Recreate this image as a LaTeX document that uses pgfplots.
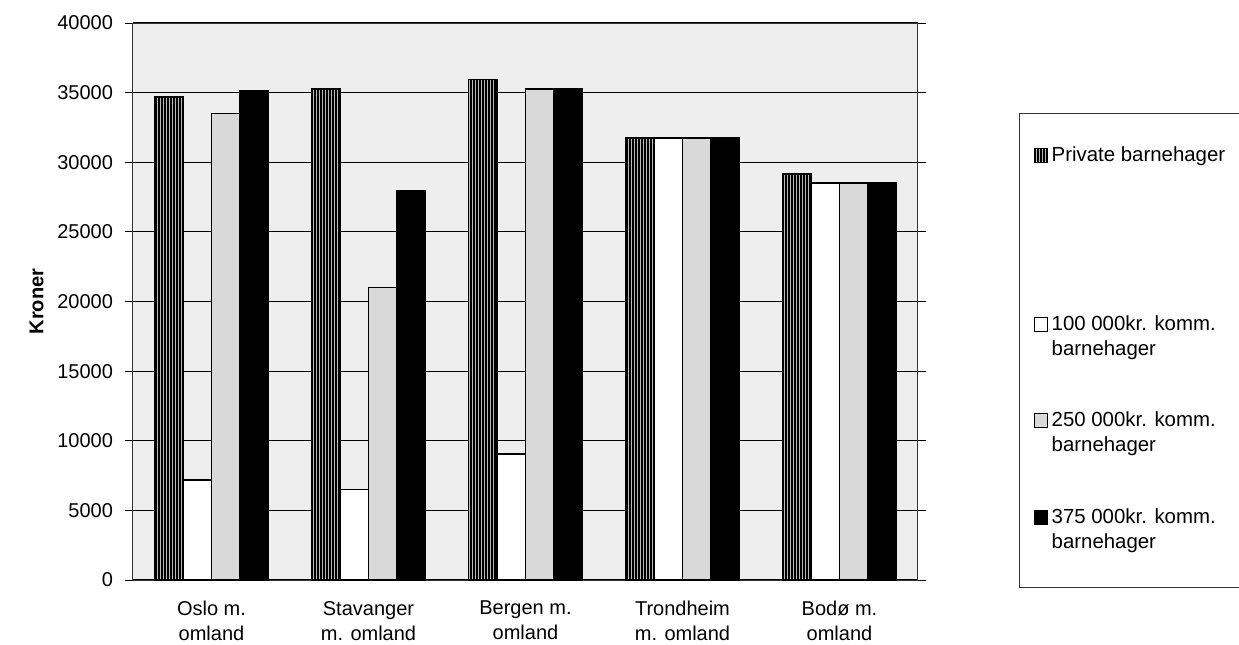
\documentclass[border=0pt]{standalone}
\usepackage{pgfplots}
\pgfplotsset{compat=1.18}
\usetikzlibrary{patterns.meta}
\usepackage{fontspec}
\setmainfont{Liberation Sans}
\begin{document}
\begin{tikzpicture}[font=\fontsize{10}{12.5}\selectfont]
\path[use as bounding box] (-66.5pt,-32pt) rectangle (553pt,290pt);
\begin{axis}[
  at={(0,0)}, anchor=south west,
  scale only axis, width=392.5pt, height=278.5pt,
  xmin=-0.5, xmax=4.5, ymin=0, ymax=40000,
  ybar=0pt, bar width=14.25pt,
  axis background/.style={fill=gray!13},
  axis line style={black!80, line width=0.5pt},
  ytick={0,5000,...,40000},
  ymajorgrids, grid style={black, line width=0.6pt},
  /pgf/number format/assume math mode=true,
  yticklabel style={xshift=-2.5pt, /pgf/number format/.cd, fixed, 1000 sep={}},
  scaled y ticks=false,
  tick align=outside, major tick length=4pt,
  xtick={0,1,2,3,4},
  xticklabels={{Oslo m.\\omland},{Stavanger\\m. omland},{Bergen m.\\omland},{Trondheim\\m. omland},{Bodø m.\\omland}},
  xticklabel style={align=center, yshift=-3pt},
  x tick style={draw=none},
  y tick style={black, line width=0.5pt},
  extra x ticks={0.5,1.5,2.5,3.5},
  extra x tick labels={},
  extra x tick style={grid=none, tick style={draw=black, line width=0.5pt}},
  ylabel={\bfseries Kroner},
  ylabel style={yshift=0pt},
  legend cell align=left,
  legend style={at={(1.139,0.7976)}, anchor=north west, draw=none, fill=none,
    row sep=0pt, font=\fontsize{10.2}{12.5}\selectfont,
    nodes={text depth={}, text height={}, anchor=base west}},
  legend image code/.code={\draw[#1, line width=0.6pt] (0pt,-0.5pt) rectangle (6.5pt,6.5pt);},
]
\addplot[draw=black, line width=0.9pt, fill=gray!55,
  postaction={pattern={Lines[angle=90,distance=1.5pt,line width=0.7pt]}}]
  coordinates {(0,34700) (1,35250) (2,35950) (3,31750) (4,29150)};
\addplot[draw=black, line width=0.9pt, fill=white]
  coordinates {(0,7200) (1,6500) (2,9050) (3,31750) (4,28500)};
\addplot[draw=black, line width=0.9pt, fill=gray!30]
  coordinates {(0,33500) (1,21000) (2,35250) (3,31750) (4,28500)};
\addplot[draw=black, line width=0.9pt, fill=black]
  coordinates {(0,35150) (1,27950) (2,35250) (3,31750) (4,28500)};
\legend{{\parbox[t]{110pt}{\strut Private barnehager\rule[-71.5pt]{0pt}{0pt}}},
  {\parbox[t]{110pt}{\strut 100 000kr. komm.\\barnehager\rule[-23pt]{0pt}{0pt}}},
  {\parbox[t]{110pt}{\strut 250 000kr. komm.\\barnehager\rule[-23pt]{0pt}{0pt}}},
  {\parbox[t]{110pt}{\strut 375 000kr. komm.\\barnehager}}}
\end{axis}
\draw[black!80, line width=0.5pt] (443pt,-3.5pt) rectangle (580pt,233.5pt);
\end{tikzpicture}
\end{document}
